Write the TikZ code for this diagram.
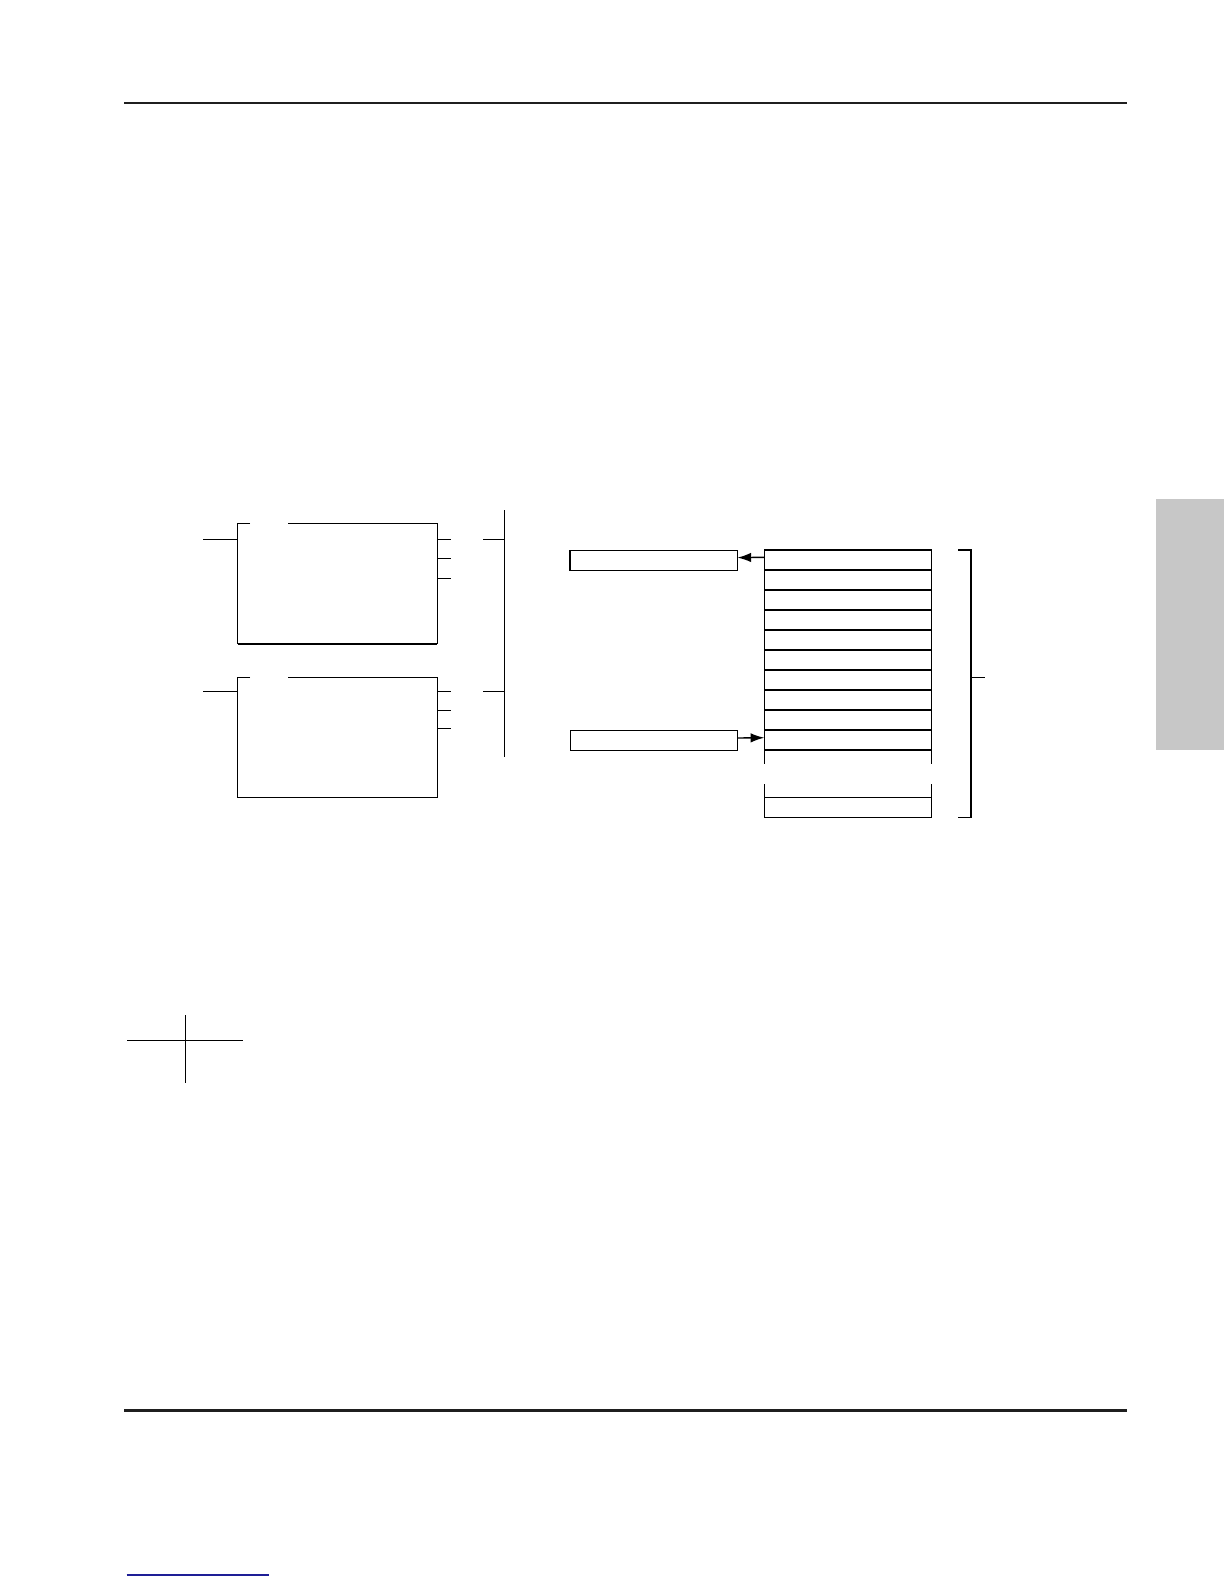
\documentclass[tikz,border=0pt]{standalone}
\usetikzlibrary{positioning}
\usetikzlibrary{calc}
\usetikzlibrary{arrows.meta}

\definecolor{tabgray}{RGB}{199,199,199}
\definecolor{linkblue}{RGB}{30,30,150}

\begin{document}
\begin{tikzpicture}[
        x=1mm,
        y=1mm,
        wire/.style={
            line width=0.4pt,
        },
        rule/.style={
            line width=0.75pt,
            color=black!88,
        },
        transfer/.style={
            -{Latex[length=3.9pt,width=2.7pt]},
            line width=0.4pt,
        },
        field/.style={
            draw,
            line width=0.4pt,
            rectangle,
            anchor=north west,
            minimum width=16.74mm,
            minimum height=2mm,
            inner sep=0pt,
            outer sep=0pt,
        },
    ]
    \useasboundingbox (0,0) rectangle (122.4,-158.4);

    % Page rules and side tab.
    \coordinate (t1) at (12.43,-10.3);
    \coordinate[right=100.24mm of t1] (t1e);
    \coordinate (t2) at (12.43,-141.03);
    \coordinate[right=100.24mm of t2] (t2e);

    \draw[rule] (t1) to (t1e);
    \draw[rule] (t2) to (t2e);

    \fill[tabgray] (115.57,-49.93) rectangle (122.4,-75.0);

    \coordinate (l1) at (12.67,-157.5);
    \coordinate[right=14.23mm of l1] (l1e);
    \draw[linkblue, line width=0.3pt] (l1) to (l1e);

    % Define first block.
    \coordinate (b1) at (23.77,-52.33);
    \coordinate[right=19.96mm of b1] (b1r);
    \coordinate[below=12.07mm of b1] (b1b);
    \coordinate[right=1.23mm of b1] (b1g);
    \coordinate[right=5.06mm of b1] (b1h);

    \coordinate[below=1.6mm of b1] (b1in);
    \coordinate[left=3.44mm of b1in] (b1ine);

    \coordinate[below=1.6mm of b1r] (o11);
    \coordinate[below=1.9mm of o11] (o12);
    \coordinate[below=2.0mm of o12] (o13);

    \coordinate[right=1.37mm of o11] (o11e);
    \coordinate[right=1.37mm of o12] (o12e);
    \coordinate[right=1.37mm of o13] (o13e);

    % Define second block.
    \coordinate (b2) at (23.77,-67.73);
    \coordinate[right=19.96mm of b2] (b2r);
    \coordinate[below=12.0mm of b2] (b2b);
    \coordinate[right=1.23mm of b2] (b2g);
    \coordinate[right=5.06mm of b2] (b2h);

    \coordinate[below=1.44mm of b2] (b2in);
    \coordinate[left=3.44mm of b2in] (b2ine);

    \coordinate[below=1.44mm of b2r] (o21);
    \coordinate[below=1.86mm of o21] (o22);
    \coordinate[below=1.84mm of o22] (o23);

    \coordinate[right=1.37mm of o21] (o21e);
    \coordinate[right=1.37mm of o22] (o22e);
    \coordinate[right=1.37mm of o23] (o23e);

    % Draw blocks.
    \draw[wire] (b1g) -- (b1) -- (b1b);
    \draw[wire] (b1h) -- (b1r) -- (b1r |- b1b);
    \draw[line width=0.7pt] (b1b) -- (b1r |- b1b);

    \draw[wire] (b2g) -- (b2) -- (b2b) -- (b2r |- b2b) -- (b2r) -- (b2h);

    \draw[wire] (b1ine) to (b1in);
    \draw[wire] (b2ine) to (b2in);

    \draw[wire] (o11) to (o11e);
    \draw[wire] (o12) to (o12e);
    \draw[wire] (o13) to (o13e);

    \draw[wire] (o21) to (o21e);
    \draw[wire] (o22) to (o22e);
    \draw[wire] (o23) to (o23e);

    % Draw bus.
    \coordinate (bus) at (50.43,-51.0);
    \coordinate[below=24.73mm of bus] (buse);
    \coordinate[left=2.1mm of bus |- o11] (s1);
    \coordinate[left=2.1mm of bus |- o21] (s2);

    \draw[wire] (bus) to (buse);
    \draw[wire] (s1) to (bus |- o11);
    \draw[wire] (s2) to (bus |- o21);

    % Define table of words.
    \node[field] (r1) at (76.43,-55.0) {};
    \node[field, below=0mm of r1] (r2) {};
    \node[field, below=0mm of r2] (r3) {};
    \node[field, below=0mm of r3] (r4) {};
    \node[field, below=0mm of r4] (r5) {};
    \node[field, below=0mm of r5] (r6) {};
    \node[field, below=0mm of r6] (r7) {};
    \node[field, below=0mm of r7] (r8) {};
    \node[field, below=0mm of r8] (r9) {};
    \node[field, below=0mm of r9] (r10) {};
    \node[field] (rn) at (76.43,-79.73) {};

    % Draw open part of table.
    \draw[wire] (r10.south west) -- ++(0,-1.43);
    \draw[wire] (r10.south east) -- ++(0,-1.43);
    \draw[wire] (rn.north west) -- ++(0,1.33);
    \draw[wire] (rn.north east) -- ++(0,1.33);

    % Draw source and target boxes.
    \node[field] (src) at (57.0,-55.03) {};
    \node[field] (dst) at (57.03,-73.03) {};

    \draw[transfer] ([yshift=0.27mm]r1.west) to ([yshift=0.27mm]src.east);
    \draw[transfer] ([yshift=0.23mm]dst.east) to ([yshift=0.23mm]r10.west);

    % Draw bracket.
    \coordinate (k1) at (95.83,-55.0);
    \coordinate[right=1.27mm of k1] (k1e);
    \coordinate[below=26.73mm of k1e] (k2e);
    \coordinate[left=1.27mm of k2e] (k2);
    \coordinate[below=12.73mm of k1e] (km);
    \coordinate[right=1.4mm of km] (kme);

    \draw[wire] (k1) -- (k1e) -- (k2e) -- (k2);
    \draw[wire] (km) to (kme);

    % Draw cross.
    \coordinate (x1) at (12.73,-104.03);
    \coordinate[right=11.54mm of x1] (x1e);
    \coordinate (x2) at (18.57,-101.5);
    \coordinate[below=6.83mm of x2] (x2e);

    \draw[wire] (x1) to (x1e);
    \draw[wire] (x2) to (x2e);

\end{tikzpicture}
\end{document}
